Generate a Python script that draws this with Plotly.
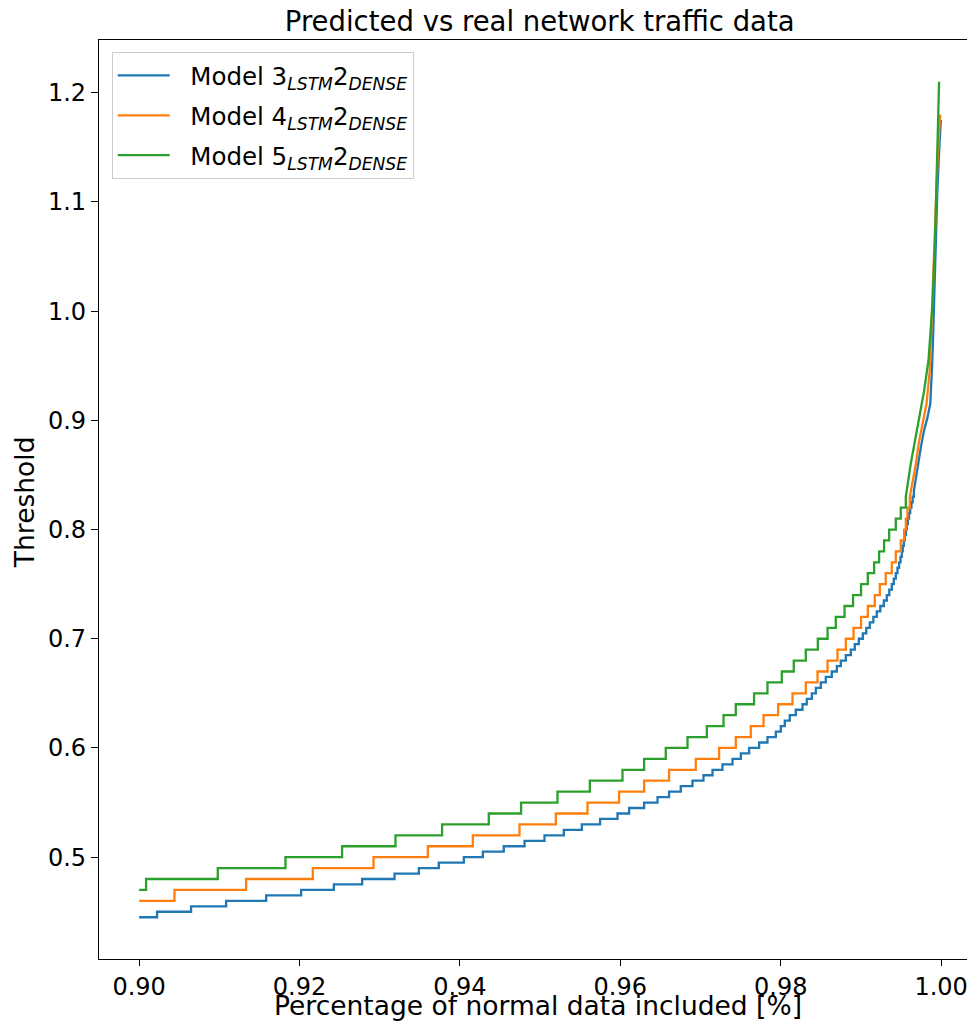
import plotly.graph_objects as go

# ---------------- data ----------------
# Model 3 (blue): step part -> x where the threshold jumps, and the new threshold
m3_step_x = [0.90000, 0.90224, 0.90648, 0.91085, 0.91584, 0.92020, 0.92428, 0.92781,
             0.93185, 0.93488, 0.93737, 0.94049, 0.94286, 0.94547, 0.94806, 0.95055,
             0.95296, 0.95520, 0.95748, 0.95965, 0.96110, 0.96297, 0.96464, 0.96608,
             0.96754, 0.96900, 0.97037, 0.97150, 0.97274, 0.97399, 0.97503, 0.97606,
             0.97731, 0.97835, 0.97939, 0.98001, 0.98051, 0.98113, 0.98188, 0.98272,
             0.98325, 0.98388, 0.98438, 0.98500, 0.98562, 0.98637, 0.98700, 0.98749,
             0.98812, 0.98874, 0.98924, 0.98974, 0.99024, 0.99067, 0.99111, 0.99155,
             0.99198, 0.99242, 0.99286, 0.99323, 0.99354, 0.99385, 0.99410, 0.99435,
             0.99456, 0.99476, 0.99494, 0.99510, 0.99522, 0.99535, 0.99547, 0.99560,
             0.99572, 0.99585, 0.99600, 0.99615, 0.99630, 0.99645, 0.99660]
m3_step_y = [0.445, 0.450, 0.455, 0.460, 0.465, 0.470, 0.475, 0.480,
             0.485, 0.490, 0.495, 0.500, 0.505, 0.510, 0.515, 0.520,
             0.525, 0.530, 0.535, 0.540, 0.545, 0.550, 0.555, 0.560,
             0.565, 0.570, 0.575, 0.580, 0.585, 0.590, 0.595, 0.600,
             0.605, 0.610, 0.615, 0.620, 0.625, 0.630, 0.635, 0.640,
             0.645, 0.650, 0.655, 0.660, 0.665, 0.670, 0.675, 0.680,
             0.685, 0.690, 0.695, 0.700, 0.705, 0.710, 0.715, 0.720,
             0.725, 0.730, 0.735, 0.740, 0.745, 0.750, 0.755, 0.760,
             0.765, 0.770, 0.775, 0.780, 0.785, 0.790, 0.795, 0.800,
             0.805, 0.810, 0.815, 0.820, 0.825, 0.830, 0.835]
m3_tail_x = [0.99706, 0.99747, 0.99788, 0.99828, 0.99865, 0.99878, 0.99888, 0.99900,
             0.99928, 0.99953, 0.99978, 0.99997]
m3_tail_y = [0.857, 0.875, 0.891, 0.902, 0.915, 0.930, 0.950, 0.976,
             1.050, 1.110, 1.150, 1.175]

# Model 4 (orange)
m4_step_x = [0.90000, 0.90441, 0.91334, 0.92166, 0.92923, 0.93600, 0.94161, 0.94743,
             0.95196, 0.95591, 0.95985, 0.96297, 0.96608, 0.96941, 0.97232, 0.97440,
             0.97627, 0.97786, 0.97968, 0.98147, 0.98313, 0.98459, 0.98584, 0.98708,
             0.98812, 0.98908, 0.99002, 0.99086, 0.99173, 0.99236, 0.99310, 0.99385,
             0.99435, 0.99497, 0.99539, 0.99560, 0.99581, 0.99610]
m4_step_y = [0.46, 0.47, 0.48, 0.49, 0.50, 0.51, 0.52, 0.53,
             0.54, 0.55, 0.56, 0.57, 0.58, 0.59, 0.60, 0.61,
             0.62, 0.63, 0.64, 0.65, 0.66, 0.67, 0.68, 0.69,
             0.70, 0.71, 0.72, 0.73, 0.74, 0.75, 0.76, 0.77,
             0.78, 0.79, 0.80, 0.81, 0.82, 0.83]
m4_tail_x = [0.99647, 0.99685, 0.99726, 0.99768, 0.99818, 0.99859, 0.99890, 0.99921,
             0.99955, 0.99988]
m4_tail_y = [0.845, 0.860, 0.881, 0.897, 0.915, 0.946, 1.007, 1.068,
             1.137, 1.180]

# Model 5 (green)
m5_step_x = [0.90000, 0.90087, 0.90981, 0.91825, 0.92531, 0.93197, 0.93778, 0.94360,
             0.94763, 0.95217, 0.95620, 0.96027, 0.96297, 0.96567, 0.96838, 0.97079,
             0.97287, 0.97440, 0.97668, 0.97835, 0.98014, 0.98163, 0.98313, 0.98463,
             0.98584, 0.98687, 0.98796, 0.98902, 0.99002, 0.99086, 0.99165, 0.99227,
             0.99289, 0.99352, 0.99435, 0.99497, 0.99560]
m5_step_y = [0.47, 0.48, 0.49, 0.50, 0.51, 0.52, 0.53, 0.54,
             0.55, 0.56, 0.57, 0.58, 0.59, 0.60, 0.61, 0.62,
             0.63, 0.64, 0.65, 0.66, 0.67, 0.68, 0.69, 0.70,
             0.71, 0.72, 0.73, 0.74, 0.75, 0.76, 0.77, 0.78,
             0.79, 0.80, 0.81, 0.82, 0.83]
m5_tail_x = [0.99622, 0.99676, 0.99726, 0.99788, 0.99843, 0.99872, 0.99893, 0.99925,
             0.99946, 0.99975]
m5_tail_y = [0.8605, 0.882, 0.903, 0.927, 0.955, 0.989, 1.007, 1.068,
             1.138, 1.210]

series_names = ["Model 3<sub><i>LSTM</i></sub>2<sub><i>DENSE</i></sub>",
                "Model 4<sub><i>LSTM</i></sub>2<sub><i>DENSE</i></sub>",
                "Model 5<sub><i>LSTM</i></sub>2<sub><i>DENSE</i></sub>"]
series_colors = ["#1f77b4", "#ff7f0e", "#2ca02c"]

x_ticks = [0.90, 0.92, 0.94, 0.96, 0.98, 1.00]
y_ticks = [0.5, 0.6, 0.7, 0.8, 0.9, 1.0, 1.1, 1.2]


def build(sx, sy, tx, ty):
    xs, ys = [sx[0]], [sy[0]]
    for i in range(1, len(sx)):
        xs += [sx[i], sx[i]]
        ys += [sy[i - 1], sy[i]]
    return xs + list(tx), ys + list(ty)


series = [build(m3_step_x, m3_step_y, m3_tail_x, m3_tail_y),
          build(m4_step_x, m4_step_y, m4_tail_x, m4_tail_y),
          build(m5_step_x, m5_step_y, m5_tail_x, m5_tail_y)]

FONT = "DejaVu Sans"
NB = "\u00a0\u00a0"  # small gap between legend line sample and label
fig = go.Figure()
for k, ((xs, ys), name, col) in enumerate(zip(series, series_names, series_colors)):
    fig.add_trace(go.Scatter(x=xs, y=ys, mode="lines", name=NB + name, legendgroup="g%d" % k,
                             line=dict(color=col, width=2.3)))

# the page places the figure 8px from the top-left corner, so size/offsets compensate
OFF = 8
W, H = 975 - OFF, 1027 - OFF
L, T, Bpx = 99 - OFF, 40 - OFF, 958.7 - OFF
PW, PH = W - L, Bpx - T
fig.update_layout(
    width=W, height=H,
    margin=dict(l=L, r=0, t=T, b=H - Bpx),
    paper_bgcolor="white", plot_bgcolor="white",
    font=dict(family=FONT, color="black", size=24),
    showlegend=True,
    legend=dict(x=(111.7 - 99) / PW, y=1 - (52 - 40) / PH, xanchor="left", yanchor="top",
                bgcolor="rgba(255,255,255,0.8)", bordercolor="#cccccc", borderwidth=1,
                font=dict(family=FONT, size=24.5), itemwidth=52, tracegroupgap=5),
    title=dict(text="Predicted vs real network traffic data", xref="container",
               x=(539.7 - OFF) / W, xanchor="center", y=1 - (21 - OFF) / H, yanchor="middle",
               font=dict(family=FONT, size=27.5)),
)
fig.update_xaxes(range=[0.895, 0.895 + PW / 8020.0], tickvals=x_ticks,
                 tickformat=".2f", showgrid=False, zeroline=False, automargin=False,
                 showline=True, linecolor="black", linewidth=1.3, mirror=True,
                 ticks="outside", ticklen=6, tickwidth=1.3, tickcolor="black",
                 tickfont=dict(family=FONT, size=24))
fig.update_yaxes(range=[0.40675, 1.24825], tickvals=y_ticks, tickformat=".1f",
                 showgrid=False, zeroline=False, automargin=False,
                 showline=True, linecolor="black", linewidth=1.3, mirror=False,
                 ticks="outside", ticklen=7, tickwidth=1.3, tickcolor="black",
                 tickfont=dict(family=FONT, size=24))
fig.add_annotation(text="Percentage of normal data included [%]", xref="paper", yref="paper",
                   x=(537.5 - 99) / PW, y=-(1005 - 958.7) / PH,
                   xanchor="center", yanchor="middle", showarrow=False,
                   font=dict(family=FONT, size=26.5))
fig.add_annotation(text="Threshold", xref="paper", yref="paper",
                   x=(24 - 99) / PW, y=1 - (502 - 40) / PH, textangle=-90,
                   xanchor="center", yanchor="middle", showarrow=False,
                   font=dict(family=FONT, size=26.5))

fig.write_html("out.html")
